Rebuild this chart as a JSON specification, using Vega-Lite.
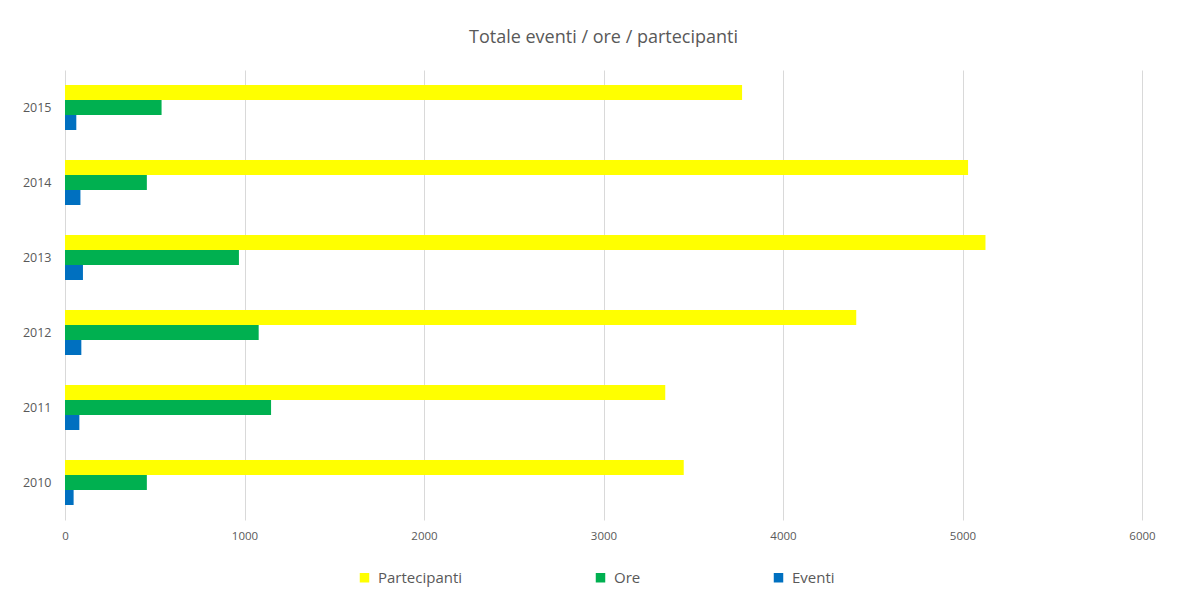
{
  "$schema": "https://vega.github.io/schema/vega-lite/v6.json",
  "width": 1077,
  "height": 450,
  "autosize": "none",
  "padding": {"left": 65, "top": 70, "right": 48, "bottom": 70},
  "background": "white",
  "title": {
    "text": "Totale eventi / ore / partecipanti",
    "font": "Open Sans",
    "fontSize": 18,
    "fontWeight": "normal",
    "color": "#595959",
    "anchor": "middle",
    "offset": 23
  },
  "data": {
    "values": [
      {"anno": "2015", "serie": "Partecipanti", "valore": 3772},
      {"anno": "2015", "serie": "Ore", "valore": 538},
      {"anno": "2015", "serie": "Eventi", "valore": 63},
      {"anno": "2014", "serie": "Partecipanti", "valore": 5031},
      {"anno": "2014", "serie": "Ore", "valore": 456},
      {"anno": "2014", "serie": "Eventi", "valore": 86},
      {"anno": "2013", "serie": "Partecipanti", "valore": 5128},
      {"anno": "2013", "serie": "Ore", "valore": 969},
      {"anno": "2013", "serie": "Eventi", "valore": 100},
      {"anno": "2012", "serie": "Partecipanti", "valore": 4408},
      {"anno": "2012", "serie": "Ore", "valore": 1079},
      {"anno": "2012", "serie": "Eventi", "valore": 91},
      {"anno": "2011", "serie": "Partecipanti", "valore": 3344},
      {"anno": "2011", "serie": "Ore", "valore": 1148},
      {"anno": "2011", "serie": "Eventi", "valore": 80},
      {"anno": "2010", "serie": "Partecipanti", "valore": 3447},
      {"anno": "2010", "serie": "Ore", "valore": 456},
      {"anno": "2010", "serie": "Eventi", "valore": 48}
    ]
  },
  "mark": {"type": "bar"},
  "encoding": {
    "y": {
      "field": "anno",
      "type": "ordinal",
      "sort": "descending",
      "scale": {"paddingInner": 0.4, "paddingOuter": 0.2},
      "axis": {
        "title": null,
        "ticks": false,
        "domain": false,
        "labelPadding": 14,
        "labelFont": "Open Sans",
        "labelFontSize": 12.5,
        "labelColor": "#595959"
      }
    },
    "yOffset": {
      "field": "serie",
      "type": "nominal",
      "sort": ["Partecipanti", "Ore", "Eventi"],
      "scale": {"paddingInner": 0, "paddingOuter": 0}
    },
    "x": {
      "field": "valore",
      "type": "quantitative",
      "scale": {"domain": [0, 6000], "nice": false},
      "axis": {
        "title": null,
        "values": [0, 1000, 2000, 3000, 4000, 5000, 6000],
        "format": "d",
        "ticks": false,
        "domain": false,
        "grid": true,
        "gridColor": "#d9d9d9",
        "labelPadding": 10,
        "labelFont": "Open Sans",
        "labelFontSize": 11.5,
        "labelColor": "#595959",
        "labelFlush": false
      }
    },
    "color": {
      "field": "serie",
      "type": "nominal",
      "sort": ["Partecipanti", "Ore", "Eventi"],
      "scale": {
        "domain": ["Partecipanti", "Ore", "Eventi"],
        "range": ["#FFFF00", "#00B050", "#0070C0"]
      },
      "legend": {
        "title": null,
        "orient": "none",
        "direction": "horizontal",
        "legendX": 292,
        "legendY": 500,
        "symbolType": "square",
        "symbolSize": 90,
        "symbolStrokeWidth": 0,
        "columnPadding": 130,
        "labelFont": "Open Sans",
        "labelFontSize": 15,
        "labelColor": "#595959",
        "labelOffset": 6
      }
    }
  },
  "config": {"view": {"stroke": null}}
}
